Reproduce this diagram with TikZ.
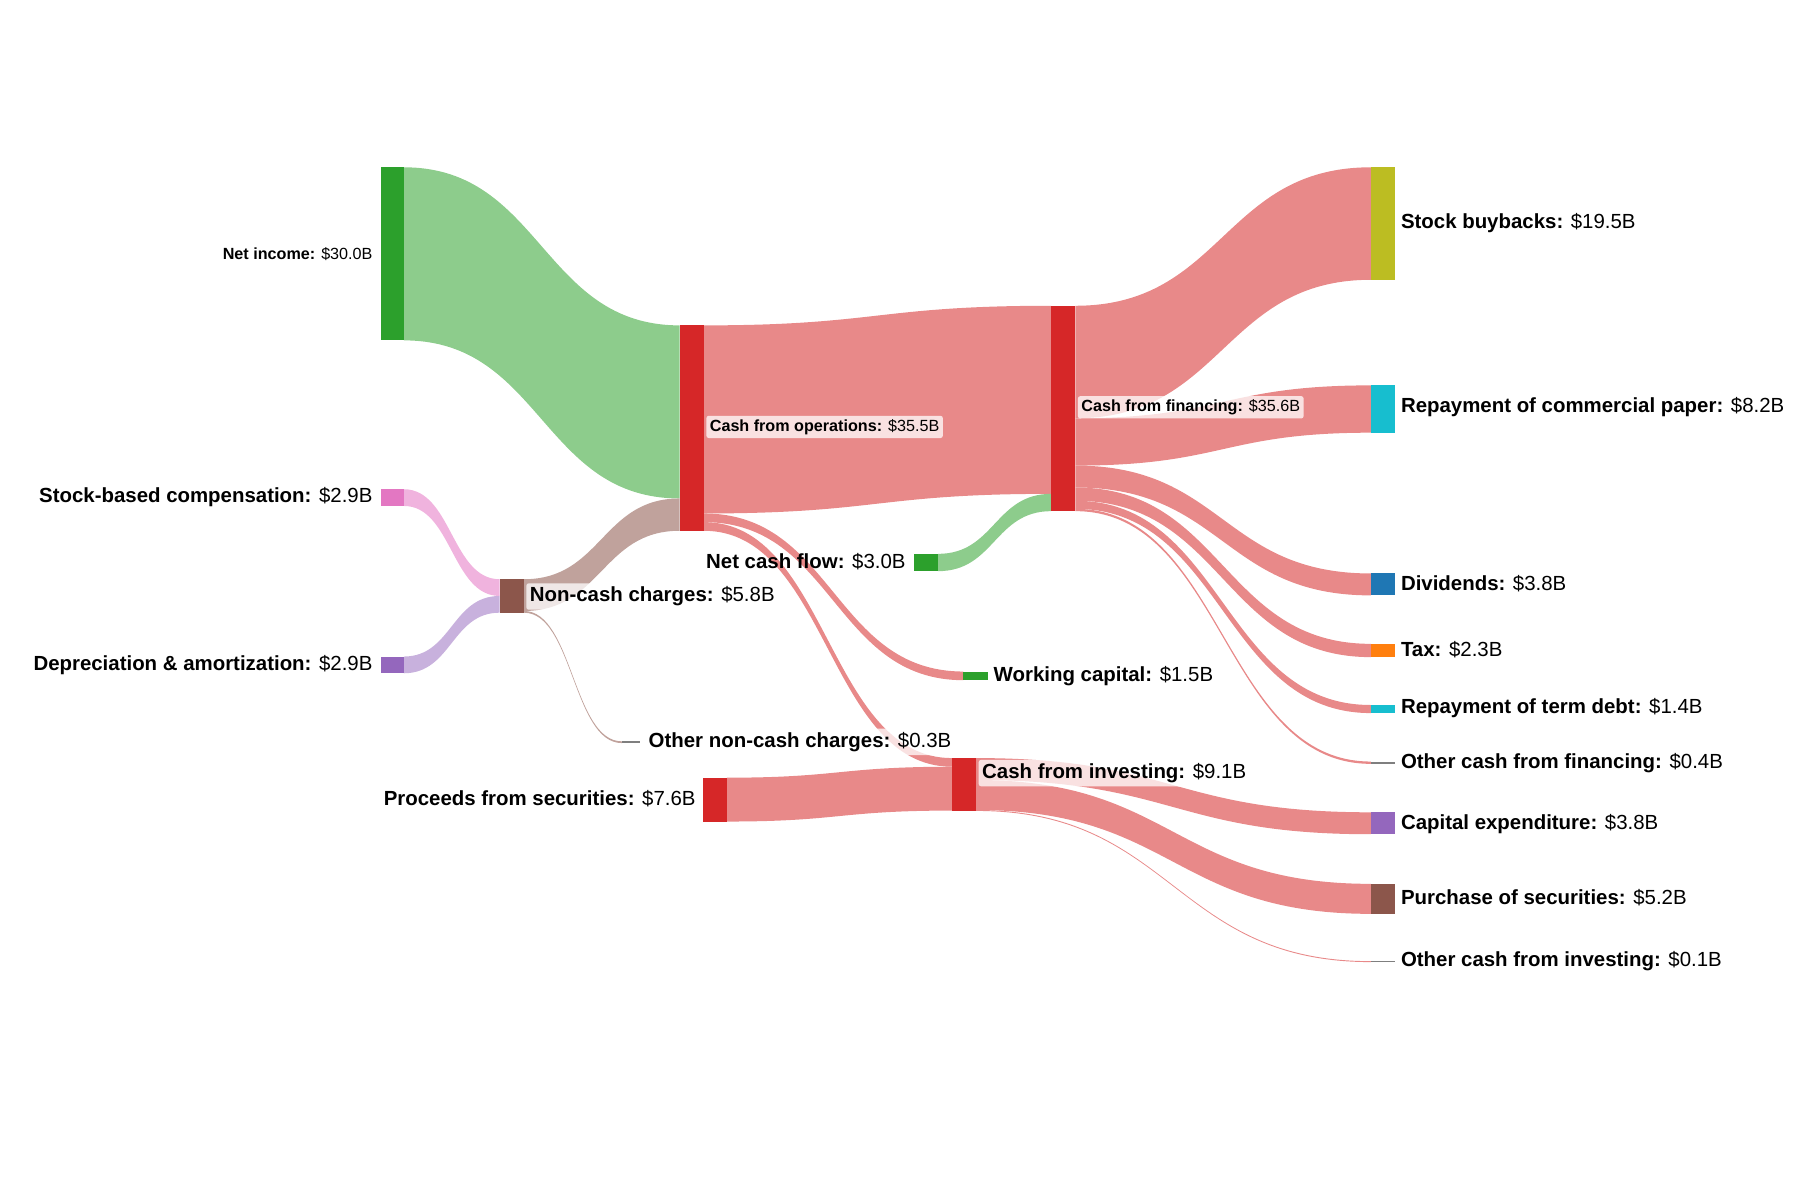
\documentclass[tikz,border=0pt]{standalone}
\usepackage{fontspec}
\setmainfont{Liberation Sans}
\definecolor{cgreen}{HTML}{2CA02C}
\definecolor{cred}{HTML}{D62728}
\definecolor{cpink}{HTML}{E377C2}
\definecolor{cpurple}{HTML}{9467BD}
\definecolor{cbrown}{HTML}{8C564B}
\definecolor{cgray}{HTML}{7F7F7F}
\definecolor{colive}{HTML}{BCBD22}
\definecolor{ccyan}{HTML}{17BECF}
\definecolor{cblue}{HTML}{1F77B4}
\definecolor{corange}{HTML}{FF7F0E}
\definecolor{lgreen}{HTML}{8DCC8C}
\definecolor{lred}{HTML}{E88989}
\definecolor{lpink}{HTML}{F0B3DE}
\definecolor{lpurple}{HTML}{C8B1DD}
\definecolor{lbrown}{HTML}{C0A29C}
\newcommand{\flow}[7]{\fill[#7] (#1,#2) .. controls ({(#1+#4)/2},#2) and ({(#1+#4)/2},#5) .. (#4,#5) -- (#4,#6) .. controls ({(#1+#4)/2},#6) and ({(#1+#4)/2},#3) .. (#1,#3) -- cycle;}
\newcommand{\sbar}[6]{\fill[#6] (#2,#3) rectangle (#4,#5) coordinate (#1);}
\tikzset{
  big/.style={font=\fontsize{17.7}{21}\selectfont, inner sep=2pt},
  small/.style={font=\fontsize{14}{17}\selectfont, inner sep=2pt},
  boxed/.style={fill=white, fill opacity=0.75, text opacity=1, rounded corners=2pt, inner sep=3pt}
}
\begin{document}
\begin{tikzpicture}[x=1pt,y=-1pt]
\useasboundingbox (1,0) rectangle (1561,1040);
% flows
\flow{351}{145}{295}{590}{282}{432}{lgreen}
\flow{351}{424}{438.5}{434}{502}{516.5}{lpink}
\flow{351}{569}{583.5}{434}{516.5}{531}{lpurple}
\flow{455}{502}{529.5}{590}{432}{460}{lbrown}
\flow{455}{529.5}{531}{540}{642.5}{644}{lbrown}
\flow{611}{282}{445}{912}{265}{428}{lred}
\flow{611}{445}{452.5}{836}{582}{589.5}{lred}
\flow{611}{452.5}{460}{826}{657}{664.5}{lred}
\flow{814}{480}{495}{912}{428}{443}{lgreen}
\flow{631}{674}{712}{826}{664.5}{702.5}{lred}
\flow{933}{265}{362.5}{1189}{145}{242.5}{lred}
\flow{933}{362.5}{403.5}{1189}{334}{375}{lred}
\flow{933}{403.5}{422.5}{1189}{497}{516}{lred}
\flow{933}{422.5}{434}{1189}{558}{569.5}{lred}
\flow{933}{434}{441}{1189}{611}{618}{lred}
\flow{933}{441}{443}{1189}{660}{662}{lred}
\flow{847}{657}{676}{1189}{704}{723}{lred}
\flow{847}{676}{702}{1189}{766}{792}{lred}
\flow{847}{702}{702.8}{1189}{833}{833.8}{lred}
% bars
\sbar{ni}{331}{145}{351}{295}{cgreen}
\sbar{sbc}{331}{424}{351}{438.5}{cpink}
\sbar{da}{331}{569}{351}{583.5}{cpurple}
\sbar{nc}{434}{502}{455}{531}{cbrown}
\sbar{onc}{540}{642.5}{556}{644}{cgray}
\sbar{ops}{590}{282}{611}{460}{cred}
\sbar{ncf}{793}{480}{814}{495}{cgreen}
\sbar{wc}{836}{582}{857}{589.5}{cgreen}
\sbar{pfs}{610}{674}{631}{712}{cred}
\sbar{inv}{826}{657}{847}{702.5}{cred}
\sbar{fin}{912}{265}{933}{443}{cred}
\sbar{sb}{1189}{145}{1210}{242.5}{colive}
\sbar{cp}{1189}{334}{1210}{375}{ccyan}
\sbar{dv}{1189}{497}{1210}{516}{cblue}
\sbar{tx}{1189}{558}{1210}{569.5}{corange}
\sbar{td}{1189}{611}{1210}{618}{ccyan}
\sbar{of}{1189}{660}{1210}{662}{cgray}
\sbar{cx}{1189}{704}{1210}{723}{cpurple}
\sbar{ps}{1189}{766}{1210}{792}{cbrown}
\sbar{oi}{1189}{833}{1210}{833.8}{cgray}
% labels
\node[small,anchor=east] (lni) at (326,220) {\textbf{Net income:} \$30.0B};
\node[big,anchor=east] (lsbc) at (326,431) {\textbf{Stock-based compensation:} \$2.9B};
\node[big,anchor=east] (lda) at (326,576) {\textbf{Depreciation \& amortization:} \$2.9B};
\node[big,anchor=west,boxed] (lnc) at (457,517) {\textbf{Non-cash charges:} \$5.8B};
\node[big,anchor=west,boxed] (lonc) at (560,643) {\textbf{Other non-cash charges:} \$0.3B};
\node[small,anchor=west,boxed] (lops) at (613,370) {\textbf{Cash from operations:} \$35.5B};
\node[big,anchor=east] (lncf) at (788,487) {\textbf{Net cash flow:} \$3.0B};
\node[big,anchor=west] (lwc) at (860,586) {\textbf{Working capital:} \$1.5B};
\node[big,anchor=east] (lpfs) at (606,692) {\textbf{Proceeds from securities:} \$7.6B};
\node[big,anchor=west,boxed] (linv) at (849,670) {\textbf{Cash from investing:} \$9.1B};
\node[small,anchor=west,boxed] (lfin) at (935,353) {\textbf{Cash from financing:} \$35.6B};
\node[big,anchor=west] at (1213,193) {\textbf{Stock buybacks:} \$19.5B};
\node[big,anchor=west] at (1213,353) {\textbf{Repayment of commercial paper:} \$8.2B};
\node[big,anchor=west] at (1213,506) {\textbf{Dividends:} \$3.8B};
\node[big,anchor=west] at (1213,563) {\textbf{Tax:} \$2.3B};
\node[big,anchor=west] at (1213,614) {\textbf{Repayment of term debt:} \$1.4B};
\node[big,anchor=west] at (1213,661) {\textbf{Other cash from financing:} \$0.4B};
\node[big,anchor=west] at (1213,714) {\textbf{Capital expenditure:} \$3.8B};
\node[big,anchor=west] at (1213,778) {\textbf{Purchase of securities:} \$5.2B};
\node[big,anchor=west] at (1213,833) {\textbf{Other cash from investing:} \$0.1B};
\end{tikzpicture}
\end{document}
